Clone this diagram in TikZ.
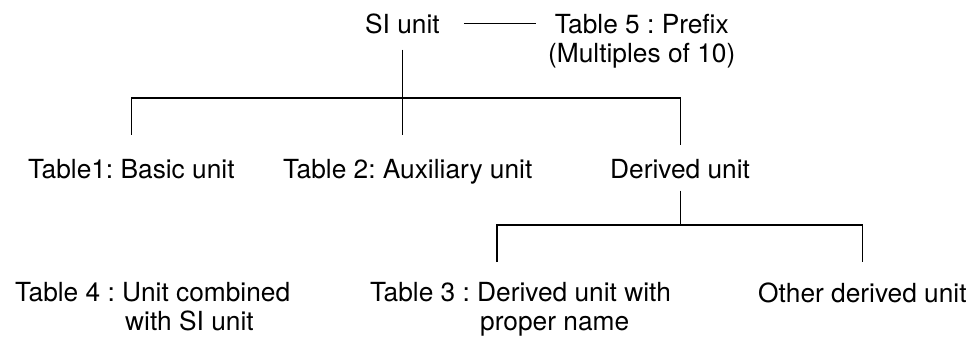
\documentclass[tikz,border=0pt]{standalone}
\usepackage{fontspec}
\setmainfont{TeX Gyre Heros}
\frenchspacing
\begin{document}
\begin{tikzpicture}[x=1pt,y=-1pt,
  lbl/.style={inner sep=0pt, anchor=base west, font=\fontsize{26.3}{28.5}\selectfont, align=left},
  conn/.style={line width=1.2pt, black}]
\useasboundingbox (0,0) rectangle (979,340);
\node[lbl] (si) at (365,33) {SI unit};
\node[lbl, align=center] (t5) at (548,62) {Table 5 : Prefix\\(Multiples of 10)};
\node[lbl] (basic) at (28,178) {Table1: Basic unit};
\node[lbl] (aux) at (283,178) {Table 2: Auxiliary unit};
\node[lbl] (der) at (610,178) {Derived unit};
\node[lbl] (t4) at (15,330) {Table 4 : Unit combined\\\hspace*{110pt}with SI unit};
\node[lbl] (t3) at (370,330) {Table 3 : Derived unit with\\\hspace*{110pt}proper name};
\node[lbl] (other) at (758,302) {Other derived unit};
\coordinate (bar) at (0,98);
\coordinate (bartwo) at (497,225);
\draw[conn] ([xshift=24pt]si.east) -- ([xshift=96pt]si.east);
\draw[conn] ([yshift=-16pt]si.south) -- ([yshift=24pt]si.south |- aux.north);
\draw[conn] ([yshift=24pt]basic.north) -- (basic.north |- bar) -- (der.north |- bar) -- ([yshift=14pt]der.north);
\draw[conn] ([yshift=-12pt]der.south) -- (der.south |- bartwo);
\draw[conn] ([yshift=20pt]bartwo |- other.north) -- (bartwo) -- (other.north |- bartwo) -- ([yshift=20pt]other.north);
\end{tikzpicture}
\end{document}
